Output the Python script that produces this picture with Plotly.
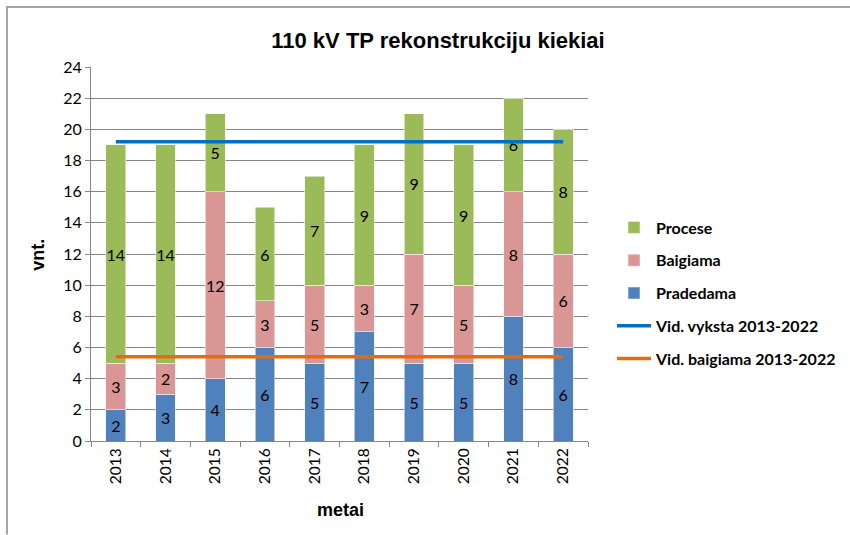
import plotly.graph_objects as go

years = ["2013", "2014", "2015", "2016", "2017", "2018", "2019", "2020", "2021", "2022"]
pradedama = [2, 3, 4, 6, 5, 7, 5, 5, 8, 6]
baigiama = [3, 2, 12, 3, 5, 3, 7, 5, 8, 6]
procese = [14, 14, 5, 6, 7, 9, 9, 9, 6, 8]
vid_vyksta = [19.2, 19.2, 19.2, 19.2, 19.2, 19.2, 19.2, 19.2, 19.2, 19.2]
vid_baigiama = [5.4, 5.4, 5.4, 5.4, 5.4, 5.4, 5.4, 5.4, 5.4, 5.4]
y_ticks = [0, 2, 4, 6, 8, 10, 12, 14, 16, 18, 20, 22, 24]

YTICK_FONT = dict(family="Lato, Noto Sans, sans-serif", size=16, color="#000000")
XTICK_FONT = dict(family="Lato, Noto Sans, sans-serif", size=15.5, color="#000000")
BOLD_FONT = dict(family="Liberation Sans, Arial, sans-serif", size=18, color="#000000")

fig = go.Figure()

def bar(name, vals, color, rank):
    fig.add_trace(go.Bar(
        x=years, y=vals, name=name, marker=dict(color=color, line=dict(color="#F2F2F2", width=0.6)),
        text=[str(v) for v in vals], textposition="inside", insidetextanchor="middle",
        textangle=0, constraintext="none",
        textfont=dict(family="Lato, sans-serif", size=16, color="#000000"),
        legendrank=rank, legendgroup=name,
    ))

bar("Pradedama", pradedama, "#4F81BD", 3)
bar("Baigiama", baigiama, "#D99694", 2)
bar("Procese", procese, "#9BBB59", 1)

fig.add_trace(go.Scatter(x=years, y=vid_vyksta, mode="lines", name="Vid. vyksta 2013-2022",
                         line=dict(color="#0070C0", width=3.5), legendrank=4, legendgroup="v1"))
fig.add_trace(go.Scatter(x=years, y=vid_baigiama, mode="lines", name="Vid. baigiama 2013-2022",
                         line=dict(color="#E46C0A", width=3.5), legendrank=5, legendgroup="v2"))

L, R, T, B = 91, 588, 67, 441.5
W, H = 850, 535
pw, ph = R - L, B - T

def px(x):
    return (x - L) / pw

def py(y):
    return (B - y) / ph

fig.update_layout(
    width=W, height=H,
    margin=dict(l=L, r=W - R, t=T, b=H - B, pad=0, autoexpand=False),
    paper_bgcolor="white", plot_bgcolor="white",
    barmode="stack", bargap=0.6,
    showlegend=True,
    legend=dict(x=612 / W, y=1 - 210.5 / H, xref="container", yref="container",
                xanchor="left", yanchor="top",
                traceorder="grouped", tracegroupgap=9,
                font=dict(family="Lato, sans-serif", size=16, color="#000000", weight="bold"),
                itemwidth=34, bgcolor="rgba(0,0,0,0)"),
    title=dict(text="<b>110 kV TP rekonstrukciju kiekiai</b>", x=438 / W, xref="container",
               xanchor="center", y=1 - 40 / H, yref="container", yanchor="middle",
               font=dict(family="Liberation Sans, Arial, sans-serif", size=22, color="#000000")),
    xaxis=dict(type="category", showgrid=False, showline=True, linecolor="#868686", linewidth=1,
               ticks="outside", tickson="boundaries", ticklen=5, tickcolor="#868686",
               tickangle=-90, tickfont=XTICK_FONT, zeroline=False),
    yaxis=dict(range=[0, 24], tickvals=y_ticks, showgrid=True, gridcolor="#868686", gridwidth=1,
               showline=True, linecolor="#868686", linewidth=1, ticks="outside", ticklen=5,
               tickcolor="#868686", tickfont=YTICK_FONT, zeroline=False),
    annotations=[
        dict(text="<b>vnt.</b>", x=px(38), y=py(255), xref="paper", yref="paper", textangle=-90,
             showarrow=False, font=BOLD_FONT, xanchor="center", yanchor="middle"),
        dict(text="<b>metai</b>", x=px(340), y=py(511), xref="paper", yref="paper",
             showarrow=False, font=BOLD_FONT, xanchor="center", yanchor="middle"),
    ],
    shapes=[
        dict(type="line", xref="paper", yref="paper", x0=px(6), x1=px(W), y0=py(7), y1=py(7),
             line=dict(color="#A6A6A6", width=2)),
        dict(type="line", xref="paper", yref="paper", x0=px(7), x1=px(7), y0=py(6), y1=py(H),
             line=dict(color="#A6A6A6", width=2)),
    ],
)

fig.write_html("out.html", config={"displayModeBar": False},
               post_script="document.body.style.margin='0';")
